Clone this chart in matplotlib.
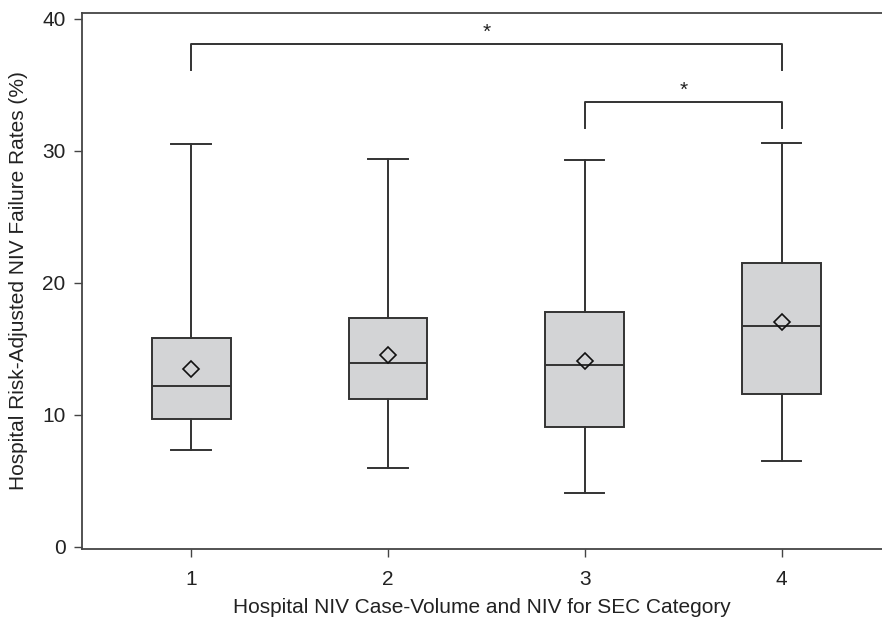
import matplotlib
matplotlib.use("Agg")
import matplotlib.pyplot as plt

plt.rcParams['font.family'] = ['Liberation Sans', 'DejaVu Sans']

categories = ['1', '2', '3', '4']
whisker_low = [7.3, 6.0, 4.1, 6.5]
q1 = [9.7, 11.2, 9.1, 11.6]
medians = [12.2, 13.9, 13.8, 16.7]
q3 = [15.8, 17.3, 17.8, 21.5]
whisker_high = [30.5, 29.4, 29.3, 30.6]
means = [13.45, 14.5, 14.1, 17.0]

# significance brackets: (left group, right group, bar height, drop height)
brackets = [(1, 4, 38.1, 36.1), (3, 4, 33.7, 31.7)]

stats = []
for i in range(len(categories)):
    stats.append({'label': categories[i], 'whislo': whisker_low[i], 'q1': q1[i],
                  'med': medians[i], 'q3': q3[i], 'whishi': whisker_high[i],
                  'mean': means[i], 'fliers': []})

line_c = '#333333'
fig = plt.figure(figsize=(8.82, 6.2), dpi=100)
ax = fig.add_axes([81.7 / 882, (620 - 548.7) / 620, (882 - 81.7) / 882, (548.7 - 12.7) / 620])

ax.bxp(stats, positions=range(1, 5), widths=0.4, patch_artist=True, showmeans=True,
       boxprops=dict(facecolor='#d3d4d6', edgecolor=line_c, linewidth=1.4),
       medianprops=dict(color=line_c, linewidth=1.4),
       whiskerprops=dict(color=line_c, linewidth=1.4),
       capprops=dict(color=line_c, linewidth=1.4),
       capwidths=0.2,
       meanprops=dict(marker='D', markerfacecolor='none', markeredgecolor='#111111',
                      markersize=8, markeredgewidth=1.2))

for a, b, top, drop in brackets:
    ax.plot([a, a, b, b], [drop, top, top, drop], color=line_c, lw=1.4)
    ax.text((a + b) / 2, top + 0.15, '*', ha='center', va='bottom', fontsize=15,
            color='#222222')

ax.set_xlim(0.444, 4.51)
ax.set_ylim(-0.15, 40.45)
ax.set_yticks([0, 10, 20, 30, 40])
ax.spines['right'].set_visible(False)
for s in ['left', 'bottom', 'top']:
    ax.spines[s].set_color('#444444')
    ax.spines[s].set_linewidth(1.3)
ax.tick_params(direction='out', length=5.5, width=1, colors='#444444', labelcolor='#222222',
               labelsize=15)
ax.tick_params(axis='x', pad=10)
ax.tick_params(axis='y', pad=6)
ax.set_xlabel('Hospital NIV Case-Volume and NIV for SEC Category', fontsize=15,
              color='#222222', labelpad=6)
ax.set_ylabel('Hospital Risk-Adjusted NIV Failure Rates (%)', fontsize=15,
              color='#222222', labelpad=10)

fig.savefig('out.png', dpi=100)
